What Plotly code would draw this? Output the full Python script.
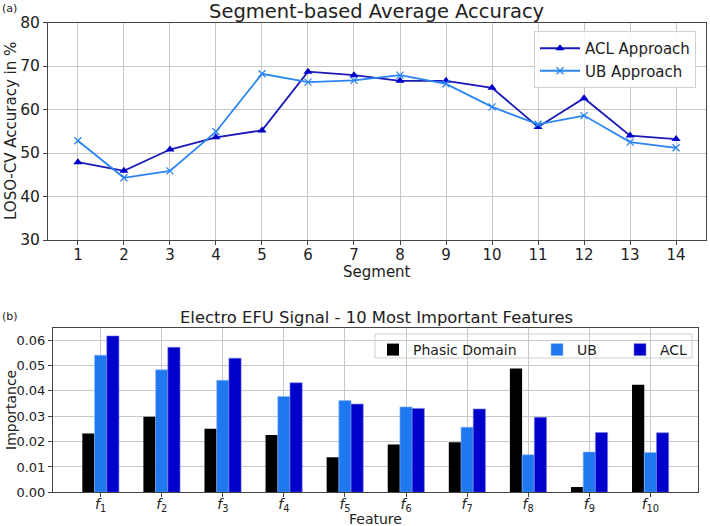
import plotly.graph_objects as go

segments = list(range(1, 15))
acl_acc = [47.9, 45.9, 50.8, 53.6, 55.2, 68.7, 67.9, 66.6, 66.6, 65.0, 56.0, 62.6, 54.0, 53.2]
ub_acc = [52.8, 44.3, 45.9, 54.9, 68.2, 66.3, 66.7, 67.9, 65.9, 60.6, 56.6, 58.6, 52.5, 51.2]

features = [f"<i>f</i><sub>{i}</sub>" for i in range(1, 11)]
phasic_imp = [0.0232, 0.0298, 0.0251, 0.0226, 0.0138, 0.0189, 0.0197, 0.0488, 0.0021, 0.0424]
ub_imp = [0.0541, 0.0483, 0.0442, 0.0378, 0.0362, 0.0337, 0.0257, 0.0148, 0.0159, 0.0157]
acl_imp = [0.0617, 0.0572, 0.0529, 0.0432, 0.0348, 0.0331, 0.0329, 0.0296, 0.0236, 0.0235]

W, H = 710, 526
FONT = "DejaVu Sans"
ACL_C = "#0000CC"
UB_C = "#1f78f0"
UB_LINE = "#2a85f2"

def px_x(p):
    return p / W

def px_y(p):
    return 1 - p / H

fig = go.Figure()

fig.add_trace(go.Scatter(
    x=segments, y=acl_acc, mode="lines+markers", name="ACL Approach",
    line=dict(color="#1a1ab8", width=1.8),
    marker=dict(symbol="triangle-up", size=8, color=ACL_C),
    xaxis="x", yaxis="y", legend="legend"))
fig.add_trace(go.Scatter(
    x=segments, y=ub_acc, mode="lines+markers", name="UB Approach",
    line=dict(color=UB_LINE, width=1.8),
    marker=dict(symbol="x-thin", size=7, color=UB_LINE, line=dict(color=UB_LINE, width=1.3)),
    xaxis="x", yaxis="y", legend="legend"))

xi = list(range(10))
fig.add_trace(go.Bar(x=xi, y=phasic_imp, name="Phasic Domain", marker=dict(color="black", line=dict(width=0)),
                     xaxis="x2", yaxis="y2", legend="legend2", offsetgroup="a"))
fig.add_trace(go.Bar(x=xi, y=ub_imp, name="UB", marker=dict(color=UB_C, line=dict(width=0.6, color="#8fb8f8")),
                     xaxis="x2", yaxis="y2", legend="legend3", offsetgroup="b"))
fig.add_trace(go.Bar(x=xi, y=acl_imp, name="ACL", marker=dict(color=ACL_C, line=dict(width=0.6, color="#8080e8")),
                     xaxis="x2", yaxis="y2", legend="legend4", offsetgroup="c"))

axis_common = dict(showline=True, linecolor="#444", linewidth=1, mirror=True,
                   ticks="outside", ticklen=4, tickcolor="#444",
                   showgrid=True, gridcolor="#c8c8c8", gridwidth=1,
                   zeroline=False, automargin=False)

fig.update_layout(
    width=W, height=H,
    margin=dict(l=0, r=0, t=0, b=0),
    paper_bgcolor="white", plot_bgcolor="white",
    font=dict(family=FONT, color="#222"),
    hovermode=False,
    barmode="group", bargap=0.4, bargroupgap=0,
    xaxis=dict(domain=[px_x(48), px_x(706)], range=[0.35, 14.65], tickvals=segments,
               tickfont=dict(size=15), anchor="y", ticklabelstandoff=-3, **axis_common),
    yaxis=dict(domain=[px_y(240), px_y(22.5)], range=[30, 80], tickvals=[30, 40, 50, 60, 70, 80],
               tickfont=dict(size=15.5), anchor="x", **axis_common),
    xaxis2=dict(domain=[px_x(53), px_x(698)], range=[-0.78, 9.78], tickvals=xi, ticktext=features,
                tickfont=dict(size=14), anchor="y2", ticklabelstandoff=-5, **axis_common),
    yaxis2=dict(domain=[px_y(492.3), px_y(328.3)], range=[0, 0.0647],
                tickvals=[0, 0.01, 0.02, 0.03, 0.04, 0.05, 0.06], tickformat=".2f",
                tickfont=dict(size=13), anchor="x2", **axis_common),
    legend=dict(x=px_x(534), y=px_y(31), xanchor="left", yanchor="top",
                bgcolor="rgba(255,255,255,0.85)", bordercolor="#d0d0d0", borderwidth=1,
                font=dict(size=15), tracegroupgap=0, itemwidth=40),
    legend2=dict(x=px_x(373), y=px_y(334), xanchor="left", yanchor="top", orientation="h",
                 bgcolor="rgba(0,0,0,0)", font=dict(size=14)),
    legend3=dict(x=px_x(537), y=px_y(334), xanchor="left", yanchor="top", orientation="h",
                 bgcolor="rgba(0,0,0,0)", font=dict(size=14)),
    legend4=dict(x=px_x(620), y=px_y(334), xanchor="left", yanchor="top", orientation="h",
                 bgcolor="rgba(0,0,0,0)", font=dict(size=14)),
    shapes=[dict(type="rect", xref="paper", yref="paper",
                 x0=px_x(375), x1=px_x(692), y0=px_y(358), y1=px_y(334),
                 line=dict(color="#d0d0d0", width=1), fillcolor="rgba(255,255,255,0.85)", layer="below")],
    annotations=[
        dict(text="Segment-based Average Accuracy", x=px_x(377), y=px_y(12), xref="paper", yref="paper",
             showarrow=False, font=dict(size=19.5), xanchor="center", yanchor="middle"),
        dict(text="Segment", x=px_x(377), y=px_y(272), xref="paper", yref="paper",
             showarrow=False, font=dict(size=15), xanchor="center", yanchor="middle"),
        dict(text="LOSO-CV Accuracy in %", x=px_x(11), y=px_y(131), xref="paper", yref="paper",
             showarrow=False, font=dict(size=15), textangle=-90, xanchor="center", yanchor="middle"),
        dict(text="(a)", x=0, y=px_y(9), xref="paper", yref="paper",
             showarrow=False, font=dict(size=11), xanchor="left", yanchor="middle"),
        dict(text="Electro EFU Signal - 10 Most Important Features", x=px_x(376), y=px_y(317), xref="paper", yref="paper",
             showarrow=False, font=dict(size=16.4), xanchor="center", yanchor="middle"),
        dict(text="Feature", x=px_x(375), y=px_y(519), xref="paper", yref="paper",
             showarrow=False, font=dict(size=14), xanchor="center", yanchor="middle"),
        dict(text="Importance", x=px_x(11), y=px_y(410), xref="paper", yref="paper",
             showarrow=False, font=dict(size=14), textangle=-90, xanchor="center", yanchor="middle"),
        dict(text="(b)", x=0, y=px_y(316), xref="paper", yref="paper",
             showarrow=False, font=dict(size=11), xanchor="left", yanchor="middle"),
    ],
)

fig.write_html("out.html", config={"displayModeBar": False},
               post_script="document.body.style.margin='0';")
